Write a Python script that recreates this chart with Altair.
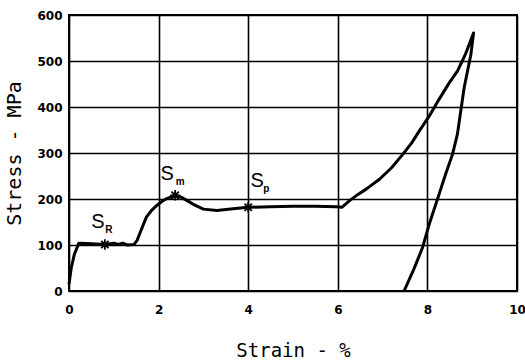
import altair as alt
import pandas as pd

# loading branch then unloading branch (strain %, stress MPa)
strain = [0.0, 0.05, 0.12, 0.22, 0.4, 0.6, 0.8, 1.0, 1.1, 1.2, 1.3, 1.45, 1.52, 1.58,
          1.65, 1.73, 1.85, 1.96, 2.08, 2.18, 2.37, 2.5, 2.63, 2.8, 3.0, 3.3, 3.66,
          4.0, 4.5, 5.0, 5.5, 5.97, 6.09, 6.27, 6.45, 6.64, 6.93, 7.2, 7.45, 7.65,
          7.82, 8.04, 8.25, 8.49, 8.67, 8.85, 9.03,
          8.97, 8.82, 8.67, 8.56, 8.4, 8.26, 8.04, 7.89, 7.7, 7.48]
stress = [15, 50, 80, 104, 103, 102, 101, 104, 101, 104, 100, 101, 110, 125,
          142, 161, 176, 186, 195, 201, 208, 204, 197, 187, 178, 175, 179,
          182, 183, 184, 184, 183, 182, 197, 210, 222, 243, 268, 297, 322,
          348, 380, 415, 453, 478, 515, 561,
          514, 442, 341, 297, 252, 210, 145, 94, 48, 0]

pt_strain = [0.8, 2.37, 4.0]
pt_stress = [101, 208, 182]
pt_sub = ["R", "m", "p"]

df = pd.DataFrame({"strain": strain, "stress": stress, "i": list(range(len(strain)))})
pts = pd.DataFrame({"strain": pt_strain, "stress": pt_stress, "sub": pt_sub})

x = alt.X("strain:Q", scale=alt.Scale(domain=[0, 10], nice=False),
          axis=alt.Axis(values=[0, 2, 4, 6, 8, 10], title="Strain - %"))
y = alt.Y("stress:Q", scale=alt.Scale(domain=[0, 600], nice=False),
          axis=alt.Axis(values=[0, 100, 200, 300, 400, 500, 600], title="Stress - MPa"))

line = alt.Chart(df).mark_line(color="black", strokeWidth=3, strokeJoin="round").encode(
    x=x, y=y, order="i:Q")

star = "M -1 0 L 1 0 M 0 -1 L 0 1 M -0.7 -0.7 L 0.7 0.7 M -0.7 0.7 L 0.7 -0.7"
marks = alt.Chart(pts).mark_point(shape=star, filled=False, color="black",
                                  strokeWidth=1.8, size=110, opacity=1).encode(x=x, y=y)

base = alt.Chart(pts)
layers = [line, marks]
offs = [(-7, -23, 4, -15), (-8, -21, 5, -13), (9, -26, 18, -18)]
for k, (dxs, dys, dxb, dyb) in enumerate(offs):
    d = base.transform_filter(alt.datum.sub == pt_sub[k])
    layers.append(d.mark_text(text="S", font="Liberation Sans", fontSize=20,
                              dx=dxs, dy=dys, color="black").encode(x=x, y=y))
    layers.append(d.mark_text(font="Liberation Sans", fontSize=10, fontWeight="bold",
                              dx=dxb, dy=dyb, color="black").encode(x=x, y=y, text="sub:N"))

chart = alt.layer(*layers).properties(
    width=448, height=276,
    autosize=alt.AutoSizeParams(type="none"),
    padding={"left": 69, "top": 15, "right": 8, "bottom": 71},
).configure_view(stroke="black", strokeWidth=2).configure_axis(
    grid=True, gridColor="black", gridOpacity=1, gridWidth=1.6,
    domain=False, ticks=False,
    labelFont="DejaVu Sans", labelFontWeight="bold", labelFontSize=12, labelColor="black",
    titleFont="DejaVu Sans Mono", titleFontWeight="normal", titleColor="black",
).configure_axisX(labelPadding=13, titleFontSize=19, titlePadding=26,
                  labelAlign="center", labelOverlap=False
).configure_axisY(labelPadding=7, titleFontSize=20, titlePadding=12, labelBaseline="middle")

chart.save("out.html", embed_options={"renderer": "svg", "actions": False})
